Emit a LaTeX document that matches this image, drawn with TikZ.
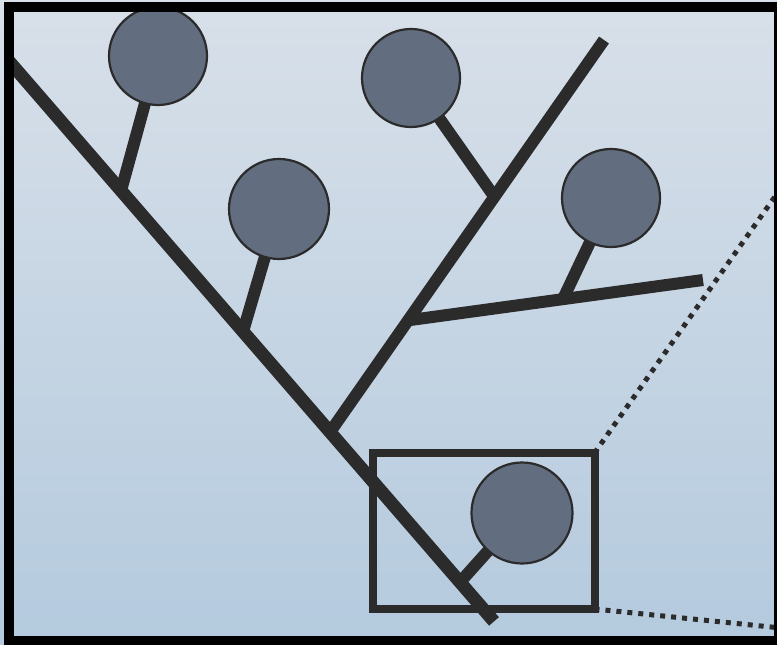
\documentclass[tikz,border=0pt]{standalone}
\usetikzlibrary{calc}
\pgfdeclarelayer{bg}
\pgfdeclarelayer{lines}
\pgfsetlayers{bg,lines,main}
\definecolor{bgtop}{HTML}{D8E0E9}
\definecolor{bgbot}{HTML}{B4CADE}
\definecolor{ink}{HTML}{2B2B2B}
\definecolor{leaffill}{HTML}{626E7F}
\tikzset{
  leaf/.style={circle, draw=ink, line width=2.2pt, fill=leaffill, inner sep=0pt, outer sep=0pt},
  trunkline/.style={draw=ink, line width=13pt},
  branchline/.style={draw=ink, line width=12pt},
  stemline/.style={draw=ink, line width=12pt},
  zoombox/.style={draw=ink, line width=8pt, inner sep=0pt, outer sep=0pt},
  dotline/.style={draw=ink, line width=5pt, dash pattern=on 5pt off 6pt},
}
\begin{document}
\begin{tikzpicture}[x=1pt,y=-1pt]
\useasboundingbox (0,0) rectangle (777,645);
\begin{pgfonlayer}{bg}
  \shade[top color=bgtop, bottom color=bgbot] (0,0) rectangle (777,645);
\end{pgfonlayer}
% leaves
\node[leaf, minimum size=98pt] (c1) at (158,56) {};
\node[leaf, minimum size=100pt] (c2) at (279,209) {};
\node[leaf, minimum size=98pt] (c3) at (411,78) {};
\node[leaf, minimum size=98pt] (c4) at (611,198) {};
\node[leaf, minimum size=101pt] (c5) at (522,513) {};
% zoom box
\node[zoombox, minimum width=222pt, minimum height=156pt] (zb) at (483.5,531) {};
% skeleton coordinates
\coordinate (t0) at (9,61.2);
\coordinate (t1) at (494,621.4);
\coordinate (j1) at ($(t0)!0.231!(t1)$);
\coordinate (j2) at ($(t0)!0.4825!(t1)$);
\coordinate (j3) at ($(t0)!0.662!(t1)$);
\coordinate (j5) at ($(t0)!0.93!(t1)$);
\coordinate (b1) at (604,40);
\coordinate (m1) at ($(j3)!0.6!(b1)$);
\coordinate (k0) at ($(j3)!0.285!(b1)$);
\coordinate (k1) at (703,280);
\coordinate (n1) at ($(k0)!0.525!(k1)$);
\coordinate (z1) at (781,188);
\coordinate (z2) at (781,628);
\begin{pgfonlayer}{lines}
  \draw[trunkline] (t0) -- (t1);
  \draw[branchline] (j3) -- (b1);
  \draw[branchline] (k0) -- (k1);
  \draw[stemline] (j1) -- (c1.center);
  \draw[stemline] (j2) -- (c2.center);
  \draw[stemline] (m1) -- (c3.center);
  \draw[stemline] (n1) -- (c4.center);
  \draw[stemline] (j5) -- (c5.center);
  \draw[dotline] (zb.north east) -- (z1);
  \draw[dotline] (zb.south east) -- (z2);
\end{pgfonlayer}
% frame
\draw[black, line width=10pt] (9,7) rectangle (779,641);
\end{tikzpicture}
\end{document}
